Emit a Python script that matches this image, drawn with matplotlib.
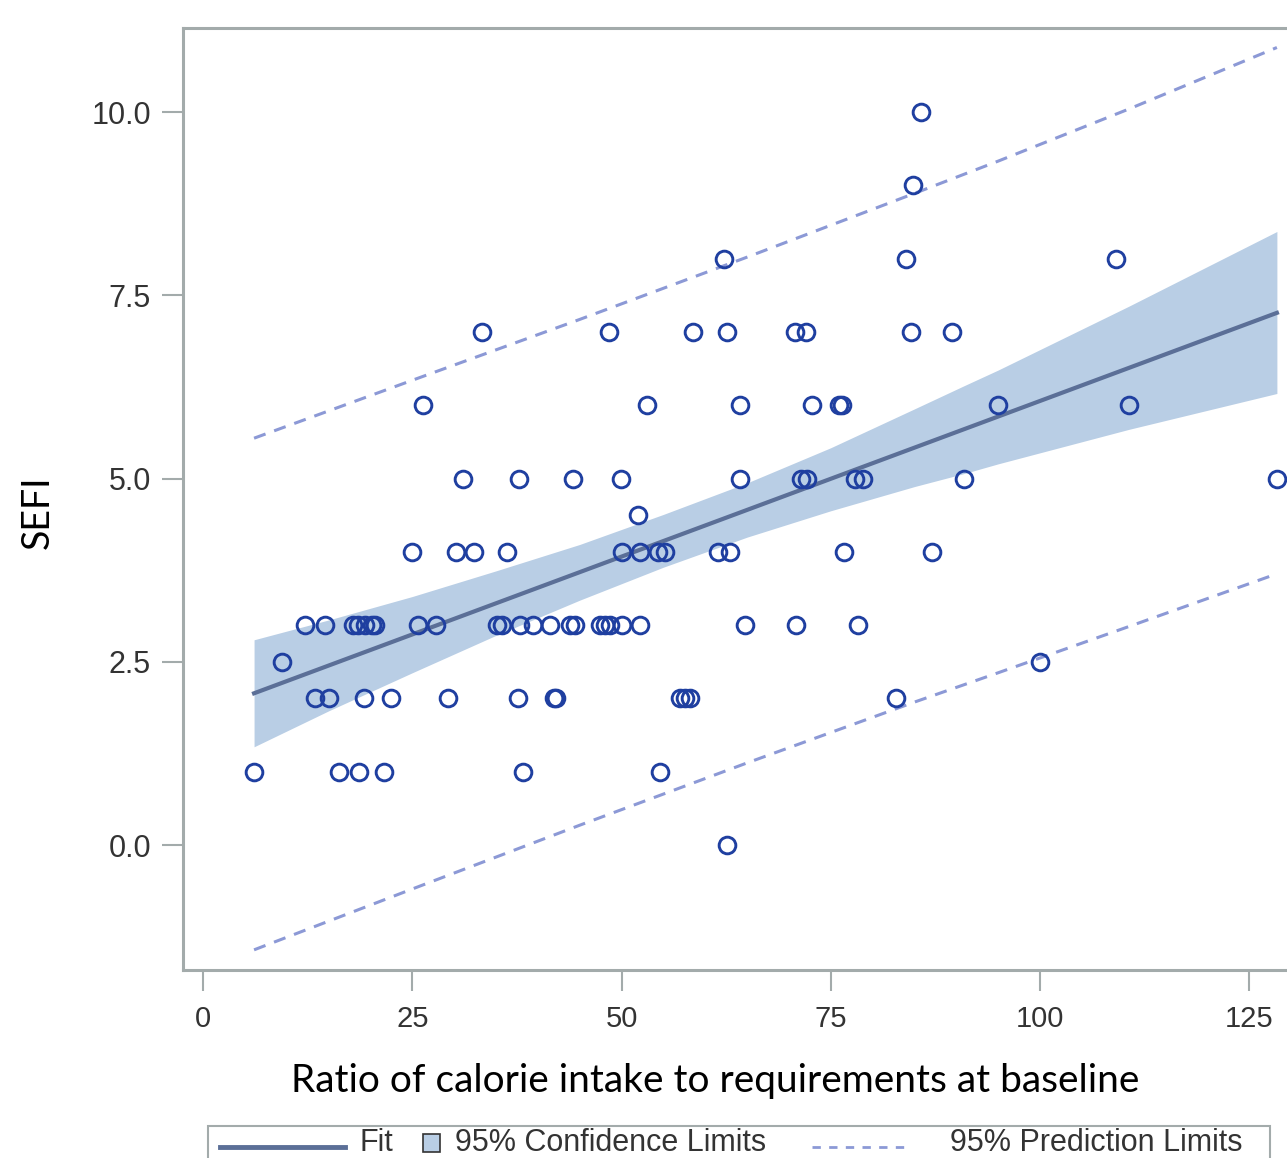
import numpy as np
import matplotlib
matplotlib.use("Agg")
import matplotlib.pyplot as plt
from matplotlib.patches import Rectangle

# observed points, grouped by SEFI value
obs_rows = {
    10.0: [85.8],
    9.0: [84.8],
    8.0: [62.2, 84.0, 109.1],
    7.0: [33.3, 48.5, 58.5, 62.6, 70.7, 72.0, 84.6, 89.5],
    6.0: [26.3, 53.0, 64.2, 72.8, 76.0, 76.4, 95.0, 110.6],
    5.0: [31.1, 37.8, 44.2, 49.9, 64.2, 71.4, 72.2, 77.9, 78.9, 90.9, 128.3],
    4.5: [52.0],
    4.0: [25.0, 30.2, 32.4, 36.3, 50.0, 52.2, 54.4, 55.2, 61.5, 63.0, 76.6, 87.1],
    3.0: [12.2, 14.6, 17.9, 18.5, 19.4, 20.2, 20.5, 25.7, 27.8, 35.1, 35.7,
          37.9, 39.4, 41.5, 43.8, 44.4, 47.4, 48.0, 48.6, 50.1, 52.2, 64.8,
          70.8, 78.3],
    2.5: [9.4, 100.0],
    2.0: [13.4, 15.0, 19.2, 22.5, 29.3, 37.6, 41.9, 42.2, 57.0, 57.6, 58.2, 82.8],
    1.0: [6.1, 16.2, 18.6, 21.6, 38.2, 54.6],
    0.0: [62.6],
}
obs_x = [x for v, xs in obs_rows.items() for x in xs]
obs_y = [v for v, xs in obs_rows.items() for x in xs]

# fit line and 95% confidence band
fit_x = [6.1, 128.3]
fit_y = [2.07, 7.26]
clm_x = [6.1, 15, 25, 35, 45, 55, 65, 75, 85, 91, 95, 110.6, 128.3]
clm_hi = [2.80, 3.07, 3.39, 3.74, 4.10, 4.51, 4.94, 5.42, 5.95, 6.27, 6.48, 7.35, 8.37]
clm_lo = [1.34, 1.83, 2.35, 2.86, 3.34, 3.79, 4.20, 4.56, 4.89, 5.07, 5.20, 5.67, 6.16]

# 95% prediction limits
pred_x = [6.1, 25, 45, 65, 85, 95, 110.6, 128.3]
pred_hi = [5.55, 6.34, 7.17, 8.02, 8.89, 9.33, 10.04, 10.88]
pred_lo = [-1.43, -0.60, 0.27, 1.12, 1.95, 2.35, 2.98, 3.70]

x_ticks = [0, 25, 50, 75, 100, 125]
y_ticks = [0.0, 2.5, 5.0, 7.5, 10.0]
legend_labels = ["Fit", "95% Confidence Limits", "95% Prediction Limits"]

frame_col = "#a3abab"
marker_col = "#1f3fa0"
band_col = "#b9cee5"
fit_col = "#5b6f97"
pred_col = "#8c99d6"
text_col = "#333333"

W, H = 1287, 1158
fig = plt.figure(figsize=(W / 100, H / 100), dpi=100)
ax = fig.add_axes([183 / W, 1 - 970 / H, (1300 - 183) / W, (970 - 28) / H])

ax.fill_between(clm_x, clm_lo, clm_hi, color=band_col, lw=0, zorder=1)
ax.plot(fit_x, fit_y, color=fit_col, lw=3, zorder=2)
ax.plot(pred_x, pred_hi, color=pred_col, lw=2.2, ls=(0, (4, 3)), zorder=2)
ax.plot(pred_x, pred_lo, color=pred_col, lw=2.2, ls=(0, (4, 3)), zorder=2)
ax.plot(obs_x, obs_y, 'o', ms=12, mfc='none', mec=marker_col, mew=2.1, zorder=3)

ax.set_xlim(-2.39, 131.06)
ax.set_ylim(-1.705, 11.146)
ax.set_xticks(x_ticks)
ax.set_xticklabels([str(t) for t in x_ticks], fontfamily="Liberation Sans", fontsize=21)
ax.set_yticks(y_ticks)
ax.set_yticklabels([f"{t:.1f}" for t in y_ticks], fontfamily="Liberation Sans", fontsize=22)
ax.tick_params(length=15, width=1.5, color=frame_col, labelcolor=text_col, pad=8)
ax.tick_params(axis='x', pad=10)
for side in ["left", "bottom", "top", "right"]:
    ax.spines[side].set_color(frame_col)
    ax.spines[side].set_linewidth(2.2)

fig.text(38 / W, 1 - 512 / H, "SEFI", rotation=90, ha="center", va="center",
         fontfamily="Lato", fontsize=27)
fig.text(715 / W, 1 - 1081 / H, "Ratio of calorie intake to requirements at baseline",
         ha="center", va="center", fontfamily="Lato", fontsize=28)

# legend drawn by hand in pixel coordinates (box runs off the bottom edge)
lg = fig.add_axes([0, 0, 1, 1], zorder=5)
lg.set_xlim(0, W)
lg.set_ylim(H, 0)
lg.axis("off")
lg.add_patch(Rectangle((208, 1126), 1062, 60, facecolor="white", edgecolor=frame_col, lw=1.5))
lg.plot([220, 345], [1147, 1147], color=fit_col, lw=3.5)
lg.text(360, 1151, legend_labels[0], ha="left", va="baseline", color=text_col,
        fontfamily="Liberation Sans", fontsize=22)
lg.add_patch(Rectangle((423, 1134), 17, 18, facecolor=band_col, edgecolor=text_col, lw=1.2))
lg.text(455, 1151, legend_labels[1], ha="left", va="baseline", color=text_col,
        fontfamily="Liberation Sans", fontsize=22)
lg.plot([812, 905], [1147, 1147], color=pred_col, lw=2, ls=(0, (3, 3)))
lg.text(950, 1151, legend_labels[2], ha="left", va="baseline", color=text_col,
        fontfamily="Liberation Sans", fontsize=22)

fig.savefig("out.png", dpi=100)
